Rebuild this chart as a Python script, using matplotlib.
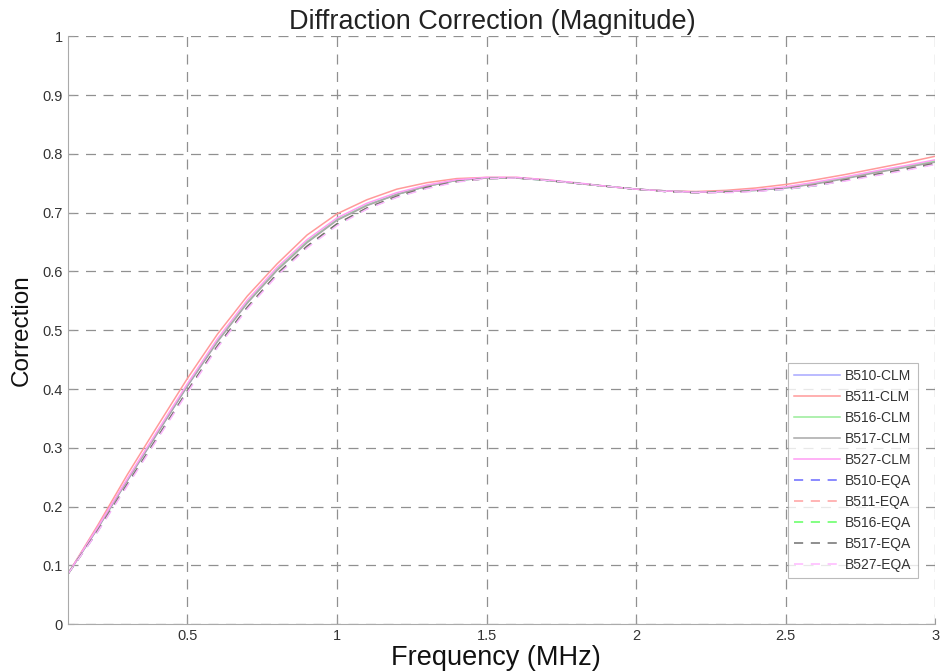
import matplotlib
matplotlib.use("Agg")
import matplotlib.pyplot as plt
import numpy as np

plt.rcParams['font.family'] = ['Liberation Sans', 'DejaVu Sans']

# frequency grid (MHz)
freq = [0.1, 0.2, 0.3, 0.4, 0.5, 0.6, 0.7, 0.8, 0.9, 1.0,
        1.1, 1.2, 1.3, 1.4, 1.5, 1.6, 1.7, 1.8, 1.9, 2.0,
        2.1, 2.2, 2.3, 2.4, 2.5, 2.6, 2.7, 2.8, 2.9, 3.0]

# CLM method
b510_clm = [0.085, 0.163, 0.245, 0.325, 0.405, 0.481, 0.547, 0.603, 0.650, 0.688,
            0.713, 0.731, 0.745, 0.755, 0.759, 0.759, 0.755, 0.750, 0.745, 0.740,
            0.737, 0.735, 0.736, 0.738, 0.742, 0.750, 0.759, 0.769, 0.778, 0.787]
b511_clm = [0.085, 0.168, 0.255, 0.337, 0.418, 0.493, 0.558, 0.613, 0.662, 0.698,
            0.722, 0.740, 0.751, 0.758, 0.760, 0.760, 0.756, 0.750, 0.745, 0.740,
            0.737, 0.736, 0.738, 0.742, 0.748, 0.756, 0.765, 0.775, 0.785, 0.796]
b516_clm = [0.085, 0.164, 0.246, 0.326, 0.406, 0.482, 0.548, 0.604, 0.651, 0.688,
            0.713, 0.731, 0.745, 0.755, 0.759, 0.759, 0.755, 0.750, 0.745, 0.740,
            0.737, 0.735, 0.736, 0.738, 0.743, 0.750, 0.759, 0.769, 0.778, 0.788]
b517_clm = [0.085, 0.163, 0.245, 0.325, 0.405, 0.480, 0.546, 0.602, 0.649, 0.687,
            0.712, 0.731, 0.745, 0.755, 0.759, 0.759, 0.755, 0.750, 0.745, 0.740,
            0.737, 0.735, 0.736, 0.738, 0.742, 0.749, 0.758, 0.768, 0.777, 0.786]
b527_clm = [0.085, 0.165, 0.248, 0.329, 0.409, 0.485, 0.551, 0.607, 0.654, 0.691,
            0.716, 0.734, 0.747, 0.756, 0.760, 0.760, 0.756, 0.751, 0.745, 0.740,
            0.737, 0.735, 0.736, 0.739, 0.744, 0.752, 0.761, 0.771, 0.780, 0.790]

# EQA method
b510_eqa = [0.085, 0.158, 0.238, 0.317, 0.396, 0.472, 0.538, 0.595, 0.642, 0.680,
            0.707, 0.727, 0.742, 0.753, 0.758, 0.759, 0.755, 0.750, 0.745, 0.740,
            0.736, 0.734, 0.735, 0.737, 0.740, 0.746, 0.755, 0.764, 0.773, 0.783]
b511_eqa = [0.085, 0.159, 0.239, 0.318, 0.397, 0.473, 0.539, 0.596, 0.643, 0.681,
            0.708, 0.728, 0.743, 0.753, 0.758, 0.759, 0.755, 0.750, 0.745, 0.740,
            0.736, 0.734, 0.735, 0.737, 0.741, 0.747, 0.756, 0.765, 0.774, 0.784]
b516_eqa = [0.085, 0.158, 0.238, 0.317, 0.396, 0.472, 0.538, 0.595, 0.642, 0.680,
            0.707, 0.727, 0.742, 0.753, 0.758, 0.759, 0.755, 0.750, 0.745, 0.740,
            0.736, 0.734, 0.735, 0.737, 0.740, 0.746, 0.755, 0.764, 0.773, 0.783]
b517_eqa = [0.085, 0.159, 0.239, 0.318, 0.397, 0.473, 0.539, 0.596, 0.643, 0.681,
            0.708, 0.728, 0.743, 0.753, 0.758, 0.759, 0.755, 0.750, 0.745, 0.740,
            0.736, 0.734, 0.735, 0.737, 0.741, 0.747, 0.756, 0.765, 0.774, 0.784]
b527_eqa = [0.085, 0.157, 0.236, 0.315, 0.394, 0.470, 0.536, 0.593, 0.640, 0.678,
            0.706, 0.726, 0.741, 0.752, 0.758, 0.759, 0.755, 0.750, 0.745, 0.740,
            0.736, 0.734, 0.734, 0.736, 0.740, 0.746, 0.754, 0.763, 0.772, 0.782]

labels = ["B510", "B511", "B516", "B517", "B527"]
clm = [b510_clm, b511_clm, b516_clm, b517_clm, b527_clm]
eqa = [b510_eqa, b511_eqa, b516_eqa, b517_eqa, b527_eqa]
clm_colors = ["#a8a8ff", "#ff9a9a", "#98ec98", "#a8a8a8", "#ff9cf4"]
eqa_colors = ["#6a6aff", "#ffa0a0", "#60ff60", "#707070", "#ffb8ff"]

fig = plt.figure(figsize=(9.4, 6.72), dpi=100)
ax = fig.add_axes([0.072, 0.071, 0.923, 0.875])

for name, vals, c in zip(labels, clm, clm_colors):
    ax.plot(freq, vals, color=c, lw=1.1, label=name + "-CLM")
for name, vals, c in zip(labels, eqa, eqa_colors):
    ax.plot(freq, vals, color=c, lw=1.1, ls=(0, (6, 5)), label=name + "-EQA")

ax.set_xlim(0.1, 3)
ax.set_ylim(0, 1)
ax.set_xticks([0.5, 1, 1.5, 2, 2.5, 3])
ax.set_xticklabels(["0.5", "1", "1.5", "2", "2.5", "3"])
ax.set_yticks(np.arange(0, 1.01, 0.1))
ax.set_yticklabels(["0", "0.1", "0.2", "0.3", "0.4", "0.5", "0.6", "0.7", "0.8", "0.9", "1"])
ax.tick_params(direction="in", length=4, color="#999999", labelcolor="#333333", labelsize=10.5)

ax.grid(True, ls=(0, (8, 6)), color="#909090", lw=0.9)
for side in ["top", "right"]:
    ax.spines[side].set_visible(False)
for side in ["left", "bottom"]:
    ax.spines[side].set_color("#aaaaaa")

ax.set_title("Diffraction Correction (Magnitude)", fontsize=19.5, color="#222222", pad=5, x=0.489)
ax.set_xlabel("Frequency (MHz)", fontsize=19.5, color="#111111", labelpad=1)
ax.xaxis.set_label_coords(0.494, -0.035)
ax.set_ylabel("Correction", fontsize=17.5, color="#111111", labelpad=7)

leg = ax.legend(loc="lower right", bbox_to_anchor=(0.988, 0.067), fontsize=10,
                frameon=True, fancybox=False, edgecolor="#aaaaaa",
                handlelength=3.3, handletextpad=0.4, labelspacing=0.5, borderpad=0.45)
leg.get_frame().set_linewidth(0.8)
for t in leg.get_texts():
    t.set_color("#333333")

fig.savefig("out.png", dpi=100)
